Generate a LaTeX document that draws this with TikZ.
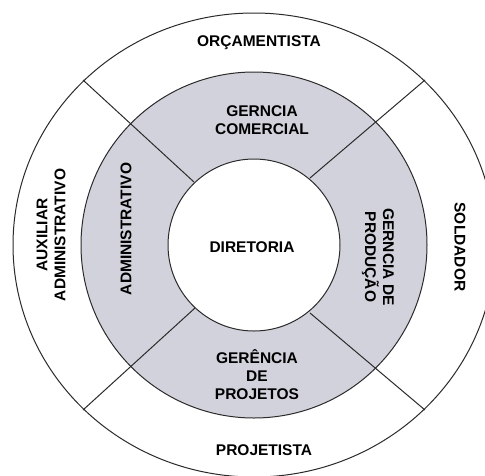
\documentclass[tikz,border=0pt]{standalone}
\usepackage{fontspec}
\setmainfont{Liberation Sans}
\usetikzlibrary{positioning}
\definecolor{orgink}{HTML}{2B2B2B}
\definecolor{orgring}{HTML}{D2D2DC}
\tikzset{
  edge/.style={draw=orgink, line width=1pt},
  lbl/.style={align=center, font=\fontsize{15.5}{18}\selectfont\bfseries, text=black, inner sep=1pt},
  up/.style={lbl, rotate=90},
  dn/.style={lbl, rotate=-90},
}
\begin{document}
\begin{tikzpicture}[x=1pt,y=-1pt]
  \fill[white] (0,0) rectangle (485,475);
  \useasboundingbox (0,0) rectangle (485,475);
  \coordinate (c) at (254,245);
  % rings
  \draw[edge, fill=white] (c) ellipse [x radius=241, y radius=232];
  \draw[edge, fill=orgring] (c) circle [radius=173];
  \draw[edge, fill=white] (c) circle [radius=86];
  % dividers
  \foreach \xa/\ya/\xb/\yb in {194/182/83/80, 310/178/425/80, 195/308/83/410, 310/313/425/410}
    \draw[edge] (\xa,\ya) -- (\xb,\yb);
  % labels
  \node[lbl] (dir) at (252,247) {DIRETORIA};
  \node[lbl] (com) at (262,120) {GERNCIA\\COMERCIAL};
  \node[lbl] (prj) at (257,375) {GERÊNCIA\\DE\\PROJETOS};
  \node[up] (adm) at (126,229) {ADMINISTRATIVO};
  \node[dn] (prd) at (378,257) {GERNCIA DE\\PRODUÇÃO};
  \node[lbl] (orc) at (259,43) {ORÇAMENTISTA};
  \node[lbl] (pjt) at (264,450) {PROJETISTA};
  \node[up] (aux) at (51,235) {AUXILIAR\\ADMINISTRATIVO};
  \node[dn] (sol) at (460,247) {SOLDADOR};
\end{tikzpicture}
\end{document}
